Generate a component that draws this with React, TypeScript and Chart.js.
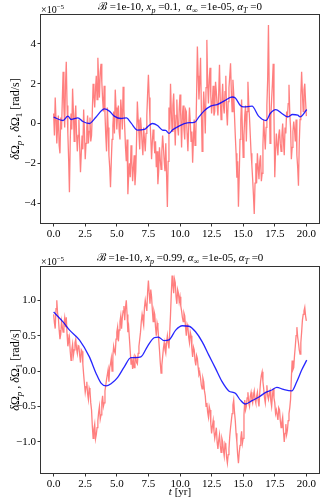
import React, { useEffect, useRef } from "react";
import { Chart, registerables } from "chart.js";
Chart.register(...registerables);

const SERIF = '"Liberation Serif", "DejaVu Serif", serif';
const RED = "rgba(255,0,0,0.5)";
const BLUE = "rgba(0,0,255,0.85)";

// sample spacing of the noisy (red) series, in years
const redStep = 0.0625;

// top panel (x_p = 0.1), values in units of 1e-5 rad/s
const redTop = [
  0.5, -0.6, 1.3, 0.2, -1.0, -0.2, 0.4, -1.1, -1.5, 0.3, -0.3, 1.2, 2.6, 0.8, -0.2, 1.9,
  3.1, 0.9, -0.5, -1.8, -3.45, -0.9, 0.5, -0.3, 1.75, 0.6, -0.9, 0.3, 0.9, -0.5, -1.4, -0.6,
  0.2, -1.2, -2.45, -1.5, -0.6, -1.3, 0.7, -0.4, -1.8, -1.0, -0.2, 0.4, -1.0, -0.4, 0.3, -0.9,
  -0.6, 0.6, 2.0, 1.4, 0.8, 1.7, 2.4, 1.2, 3.3, 2.2, 1.3, 2.6, 3.0, 2.1, 1.2, 0.6,
  1.9, 0.5, -0.6, -1.4, 0.8, -0.2, -1.6, -2.2, -3.2, -1.9, -0.8, -0.1, 0.6, -0.5, 1.7, 0.8,
  -0.3, 0.4, 0.9, -0.4, -0.8, 1.2, 0.6, -0.3, 1.85, 0.7, -0.2, -1.2, -1.9, -0.8, -3.55, -2.6,
  -2.0, -2.7, -1.1, -1.9, -2.9, -2.2, -1.6, -3.1, -2.4, -0.8, 1.1, 0.2, -0.5, -1.3, 0.3, -0.2,
  -1.0, -1.6, -0.2, -0.8, -1.4, -0.5, 0.4, 1.5, 2.45, 1.3, 0.2, -0.7, -1.8, -0.9, -0.3, -0.8,
  -1.5, -0.9, -2.2, -1.4, -3.05, -2.4, -1.2, -1.8, -2.3, -1.4, -0.6, -1.2, -1.9, -2.4, -1.0, -2.6,
  -4.2, -1.9, 0.8, -0.3, 2.0, 0.6, -0.4, 0.9, 1.5, 0.2, -1.1, 0.4, 1.2, -0.2, -0.6, 0.7,
  1.45, 0.3, -1.2, 0.4, 0.9, -0.3, -0.8, 0.7, 0.6, -0.5, -1.4, -0.2, 0.8, 0.1, -0.9, -0.4,
  -1.97, -0.8, 0.2, -1.1, -0.7, 1.4, 3.87, 2.4, 1.2, 2.1, 3.3, 0.9, -1.4, 0.2, 1.6, 0.8,
  -0.5, 1.8, 4.2, 2.0, 1.0, 2.2, 2.8, 1.4, 0.5, 1.1, 1.9, 0.4, 0.6, 2.1, 1.6, 0.9,
  0.4, 1.5, 2.95, 1.2, 0.2, 1.1, 2.0, 0.9, 0.5, 1.6, 2.4, 0.6, -0.1, 1.1, 1.8, 2.4,
  3.03, 1.6, 0.6, 2.2, 1.5, 0.4, -0.6, -1.5, -2.72, -1.9, -4.18, -2.6, -0.8, 0.2, 1.2, -0.3,
  -1.7, -0.6, 0.4, 0.9, -0.9, 0.6, 2.1, 1.0, 0.3, -0.6, -1.5, -2.1, -2.8, -3.6, -4.55, -3.0,
  -2.0, -3.0, -1.5, -2.2, -2.8, -1.9, -1.6, -2.9, -2.5, -1.1, 0.2, -0.6, -1.3, -0.2, 0.9, 2.2,
  4.95, 1.6, -1.0, 0.3, 1.2, 2.0, 3.0, 0.4, -2.7, -1.4, -0.5, -1.1, -1.6, -0.6, -0.3, -1.0,
  -1.4, -0.6, 0.0, -0.9, -1.6, -0.2, -0.5, 0.6, 0.3, 1.0, 1.95, 0.5, -0.2, -1.8, -1.2, -0.4,
  0.1, -0.3, -0.9, 0.2, -1.6, -2.2, -3.13, -1.0, 0.2, 1.4, 2.6, 1.5, 0.6, 1.7, 2.0, 1.1,
  0.37,
];
const blueTopT = [
  0, 0.74, 1.13, 1.39, 1.92, 2.31, 2.83, 3.36, 4.02, 4.41, 4.8, 5.33, 5.77, 6.12,
  6.64, 7.17, 7.43, 7.82, 8.22, 8.61, 8.87, 9.13, 9.4, 9.92, 10.58, 11.18, 11.5,
  11.89, 12.42, 12.94, 13.47, 14.12, 14.38, 14.78, 15.04, 15.7, 16.22, 16.82,
  17.14, 17.58, 18.06, 18.53, 18.9, 19.32, 19.5, 20.03,
];
const blueTop = [
  0.32, 0.15, 0.37, 0.2, 0.28, 0.1, 0.0, 0.33, 0.73, 0.62, 0.37, 0.25, 0.28, 0.03,
  -0.33, -0.3, -0.17, 0.0, -0.1, -0.33, -0.35, -0.5, -0.33, -0.13, 0.03, 0.07, 0.33,
  0.62, 0.87, 0.95, 1.12, 1.33, 1.28, 0.9, 0.83, 0.87, 0.37, 0.15,
  0.5, 0.7, 0.5, 0.33, 0.45, 0.42, 0.33, 0.7,
];

// bottom panel (x_p = 0.99)
const redBottom = [
  0.80, 0.68, 0.60, 0.88, 1.00, 0.82, 0.75, 0.58, 0.45, 0.52, 0.70, 0.62, 0.55, 0.66, 0.75, 0.62,
  0.76, 0.52, 0.35, 0.42, 0.48, 0.28, 0.15, 0.30, 0.38, 0.22, 0.30, 0.40, 0.45, 0.32, 0.25, 0.36,
  0.35, 0.22, 0.12, 0.30, 0.28, 0.10, -0.05, -0.18, -0.30, -0.22, -0.15, -0.32, -0.40, -0.24, -0.28, -0.45,
  -0.55, -0.78, -0.95, -0.82, -0.75, -0.96, -0.90, -0.80, -0.70, -0.58, -0.50, -0.68, -0.62, -0.44, -0.35, -0.50,
  -0.45, -0.28, -0.20, -0.12, -0.05, 0.02, -0.15, 0.05, 0.10, 0.18, 0.00, 0.22, 0.35, 0.28, 0.25, 0.45,
  0.55, 0.62, 0.42, 0.58, 0.70, 0.78, 0.60, 0.76, 0.85, 0.92, 0.72, 0.90, 1.00, 0.80, 0.55, 0.62,
  0.45, 0.28, 0.10, 0.18, 0.03, 0.15, 0.05, 0.22, 0.20, 0.12, 0.10, 0.25, 0.35, 0.45, 0.55, 0.70,
  0.80, 0.72, 0.65, 0.90, 1.00, 0.92, 0.85, 1.12, 1.28, 1.10, 0.95, 1.15, 1.05, 0.86, 0.70, 0.85,
  0.80, 0.62, 0.50, 0.68, 0.62, 0.45, 0.30, 0.12, -0.03, 0.08, 0.20, 0.32, 0.40, 0.30, 0.25, 0.40,
  0.50, 0.40, 0.32, 0.55, 0.80, 1.10, 1.35, 1.22, 1.10, 1.30, 1.25, 1.05, 0.95, 1.15, 1.10, 0.98,
  1.05, 0.92, 0.85, 0.76, 0.70, 0.82, 0.78, 0.62, 0.50, 0.66, 0.62, 0.48, 0.40, 0.55, 0.50, 0.32,
  0.20, 0.34, 0.30, 0.15, 0.08, 0.22, 0.18, 0.05, -0.05, -0.02, -0.10, -0.20, -0.25, -0.10, -0.15, -0.28,
  -0.35, -0.50, -0.45, -0.58, -0.65, -0.50, -0.55, -0.74, -0.88, -0.78, -0.70, -0.85, -0.95, -0.88, -0.80, -1.00,
  -1.10, -0.98, -0.90, -1.05, -1.15, -0.95, -1.00, -1.12, -1.20, -1.02, -1.05, -1.22, -1.30, -1.18, -1.10, -0.92,
  -0.80, -0.70, -0.60, -0.48, -0.41, -0.58, -0.70, -0.88, -1.00, -1.18, -1.30, -1.15, -1.05, -0.95, -0.85, -1.02,
  -0.95, -0.62, -0.41, -0.55, -0.50, -0.38, -0.30, -0.45, -0.50, -0.36, -0.30, -0.40, -0.45, -0.34, -0.28, -0.40,
  -0.45, -0.36, -0.30, -0.42, -0.50, -0.30, -0.15, -0.06, -0.01, -0.15, -0.25, -0.38, -0.45, -0.30, -0.20, -0.35,
  -0.40, -0.32, -0.28, -0.42, -0.50, -0.35, -0.25, -0.38, -0.45, -0.60, -0.55, -0.62, -0.69, -0.52, -0.55, -0.70,
  -0.80, -0.72, -0.65, -0.85, -1.00, -0.88, -0.75, -0.90, -0.84, -0.70, -0.60, -0.52, -0.40, -0.10, 0.15, 0.02,
  0.05, 0.22, 0.35, 0.50, 0.62, 0.48, 0.40, 0.30, 0.24, 0.40, 0.55, 0.72, 0.80, 0.85, 0.90, 0.78,
  0.71,
];
const blueBottomT = [
  0.0, 0.74, 1.26, 2.05, 2.83, 3.36, 3.75, 4.15, 4.54, 5.07, 5.59, 6.12, 6.51, 6.9,
  7.43, 7.95, 8.29, 8.74, 9.13, 9.66, 10.18, 10.71, 11.23, 11.76, 12.28, 12.81,
  13.33, 13.86, 14.38, 14.78, 15.17, 15.7, 16.22, 16.75, 17.27, 17.66, 18.19,
  18.85, 19.24, 19.63, 20.03,
];
const blueBottom = [
  0.835, 0.695, 0.578, 0.437, 0.2, -0.033, -0.17, -0.21, -0.18, -0.09, 0.06, 0.19,
  0.19, 0.2, 0.35, 0.47, 0.48, 0.43, 0.44, 0.578, 0.64, 0.633, 0.555, 0.413, 0.225,
  0.038, -0.15, -0.28, -0.315, -0.41, -0.465, -0.418, -0.37, -0.305, -0.268, -0.23,
  -0.26, -0.28, -0.15, 0.014, 0.155,
];

const xTickValues = [0, 2.5, 5, 7.5, 10, 12.5, 15, 17.5, 20];
const yTickValuesTop = [-4, -2, 0, 2, 4];
const yTickValuesBottom = [-1, -0.5, 0, 0.5, 1];

const FS = 11;

type Seg = { t: string; it?: boolean; sub?: boolean; sup?: boolean };

function drawRich(
  ctx: CanvasRenderingContext2D,
  segs: Seg[],
  x: number,
  y: number,
  size: number,
  align: "left" | "center"
) {
  const font = (s: Seg) =>
    `${s.it ? "italic " : ""}${s.sub || s.sup ? Math.round(size * 0.72) : size}px ${SERIF}`;
  let total = 0;
  for (const s of segs) {
    ctx.font = font(s);
    total += ctx.measureText(s.t).width;
  }
  let cx = align === "center" ? x - total / 2 : x;
  ctx.textAlign = "left";
  ctx.textBaseline = "alphabetic";
  for (const s of segs) {
    ctx.font = font(s);
    const dy = s.sub ? size * 0.28 : s.sup ? -size * 0.42 : 0;
    ctx.fillText(s.t, cx, y + dy);
    cx += ctx.measureText(s.t).width;
  }
}

const titleTop: Seg[] = [
  { t: "ℬ" }, { t: " =1e-10, " }, { t: "x", it: true }, { t: "p", it: true, sub: true },
  { t: " =0.1,  " }, { t: "α", it: true }, { t: "∞", sub: true }, { t: " =1e-05, " },
  { t: "α", it: true }, { t: "T", it: true, sub: true }, { t: " =0" },
];
const titleBottom: Seg[] = [
  { t: "ℬ" }, { t: " =1e-10, " }, { t: "x", it: true }, { t: "p", it: true, sub: true },
  { t: " =0.99, " }, { t: "α", it: true }, { t: "∞", sub: true }, { t: " =1e-05, " },
  { t: "α", it: true }, { t: "T", it: true, sub: true }, { t: " =0" },
];
const yLabel: Seg[] = [
  { t: "δ", it: true }, { t: "Ω" }, { t: "p", it: true, sub: true }, { t: " , " },
  { t: "δ", it: true }, { t: "Ω" }, { t: "1", sub: true }, { t: " [rad/s]" },
];
const xLabel: Seg[] = [{ t: "t", it: true }, { t: " [yr]" }];
const offsetText: Seg[] = [{ t: "×10" }, { t: "−5", sup: true }];

type Panel = {
  height: number;
  padTop: number;
  xAxisH: number;
  red: number[];
  blueT: number[];
  blue: number[];
  ymin: number;
  ymax: number;
  yTicks: number[];
  yDigits: number;
  title: Seg[];
  titleY: number;
  offsetY: number;
  showXLabel: boolean;
};

const panels: Panel[] = [
  {
    height: 250, padTop: 15, xAxisH: 27, red: redTop, blueT: blueTopT, blue: blueTop,
    ymin: -5.0, ymax: 5.45, yTicks: yTickValuesTop, yDigits: 0, title: titleTop,
    titleY: 10, offsetY: 13, showXLabel: false,
  },
  {
    height: 254, padTop: 17, xAxisH: 31, red: redBottom, blueT: blueBottomT, blue: blueBottom,
    ymin: -1.44, ymax: 1.47, yTicks: yTickValuesBottom, yDigits: 1, title: titleBottom,
    titleY: 11, offsetY: 15, showXLabel: true,
  },
];

function makeChart(canvas: HTMLCanvasElement, p: Panel) {
  const fmt = (v: number, d: number) => v.toFixed(d).replace("-", "−");
  const deco = {
    id: "deco",
    afterDraw(chart: any) {
      const ctx = chart.ctx as CanvasRenderingContext2D;
      const a = chart.chartArea;
      ctx.save();
      ctx.strokeStyle = "#333";
      ctx.lineWidth = 1;
      ctx.strokeRect(
        Math.round(a.left) - 0.5,
        Math.round(a.top) - 0.5,
        Math.round(a.right - a.left) + 1,
        Math.round(a.bottom - a.top) + 1
      );
      ctx.fillStyle = "#000";
      drawRich(ctx, p.title, (a.left + a.right) / 2, p.titleY, FS, "center");
      drawRich(ctx, offsetText, a.left, p.offsetY, 10, "left");
      if (p.showXLabel) drawRich(ctx, xLabel, (a.left + a.right) / 2, p.height - 9, FS, "center");
      ctx.translate(15, (a.top + a.bottom) / 2);
      ctx.rotate(-Math.PI / 2);
      drawRich(ctx, yLabel, 0, 4, 12, "center");
      ctx.restore();
    },
  };
  return new Chart(canvas, {
    type: "line",
    data: {
      datasets: [
        {
          data: p.blueT.map((t, i) => ({ x: t, y: p.blue[i] })),
          borderColor: BLUE,
          borderWidth: 1.3,
          pointRadius: 0,
          cubicInterpolationMode: "monotone",
        },
        {
          data: p.red.map((v, i) => ({ x: i * redStep, y: v })),
          borderColor: RED,
          borderWidth: 1.3,
          pointRadius: 0,
          tension: 0,
        },
      ],
    },
    options: {
      animation: false,
      responsive: false,
      maintainAspectRatio: false,
      events: [],
      layout: { padding: { left: 0, right: 7, top: p.padTop, bottom: 0 } },
      plugins: { legend: { display: false }, tooltip: { enabled: false }, title: { display: false } },
      scales: {
        x: {
          type: "linear",
          min: -1,
          max: 21,
          afterFit: (s: any) => {
            s.height = p.xAxisH;
          },
          afterBuildTicks: (s: any) => {
            s.ticks = xTickValues.map((v) => ({ value: v }));
          },
          ticks: {
            callback: (v: any) => fmt(Number(v), 1),
            font: { family: SERIF, size: FS },
            color: "#000",
            padding: 1.5,
            maxRotation: 0,
            autoSkip: false,
          },
          grid: { drawOnChartArea: false, tickLength: 3.5, tickColor: "#333", color: "#333" },
          border: { display: false },
        },
        y: {
          type: "linear",
          min: p.ymin,
          max: p.ymax,
          afterFit: (s: any) => {
            s.width = 41;
          },
          afterBuildTicks: (s: any) => {
            s.ticks = p.yTicks.map((v) => ({ value: v }));
          },
          ticks: {
            callback: (v: any) => fmt(Number(v), p.yDigits),
            font: { family: SERIF, size: FS },
            color: "#000",
            padding: 1.5,
            autoSkip: false,
          },
          grid: { drawOnChartArea: false, tickLength: 3.5, tickColor: "#333", color: "#333" },
          border: { display: false },
        },
      },
    },
    plugins: [deco],
  } as any);
}

export default function App() {
  const topRef = useRef<HTMLCanvasElement>(null);
  const bottomRef = useRef<HTMLCanvasElement>(null);
  useEffect(() => {
    const charts: Chart[] = [];
    if (topRef.current) charts.push(makeChart(topRef.current, panels[0]));
    if (bottomRef.current) charts.push(makeChart(bottomRef.current, panels[1]));
    return () => charts.forEach((c) => c.destroy());
  }, []);
  return (
    <div style={{ position: "fixed", left: 0, top: 0, width: 326, height: 504, background: "#fff" }}>
      <canvas ref={topRef} width={326} height={250} style={{ position: "absolute", left: 0, top: 0 }} />
      <canvas ref={bottomRef} width={326} height={254} style={{ position: "absolute", left: 0, top: 250 }} />
    </div>
  );
}
